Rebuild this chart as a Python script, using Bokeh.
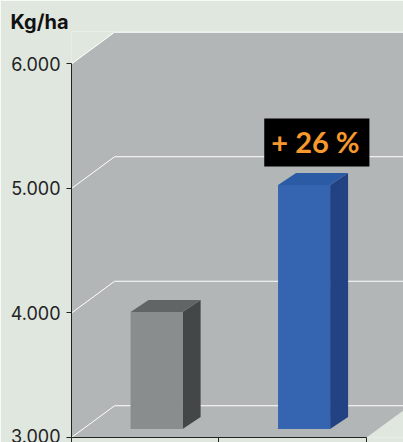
from bokeh.plotting import figure
from bokeh.embed import file_html
from bokeh.resources import INLINE
from bokeh.core.properties import value
from bokeh.models import FixedTicker, Range1d, Title

y_ticks = [3000, 4000, 5000, 6000]
y_labels = ["3.000", "4.000", "5.000", "6.000"]
x_ticks = [0, 1, 2]
bar_positions = [0.5, 1.5]
bar_values = [3940, 4960]
bar_front = ["#898d8d", "#3565b0"]
bar_side = ["#434748", "#224283"]
bar_top = ["#616566", "#2c5ba5"]
annotation = "+ 26 %"
unit_label = "Kg/ha"

BG = "#dfe7df"
WALL = "#b3b6b6"
XMAX = 2.2512
YTOP = 6261
WALL_DX, WALL_DY = 0.292, 255     # depth of the chart box
BAR_W, BAR_DX, BAR_DY = 0.353, 0.122, 96
BAR_SHIFT = 0.077                 # columns stand inside the box
FLOOR = 68                        # baseline of the bars above the front edge

p = figure(width=403, height=442, output_backend="svg", toolbar_location=None,
           x_range=Range1d(0, XMAX), y_range=Range1d(3000, YTOP),
           min_border_left=71, min_border_right=0, min_border_top=31, min_border_bottom=0,
           background_fill_color=BG, border_fill_color=BG, outline_line_color=None)
p.grid.visible = False

p.add_layout(Title(text=unit_label, align="left", offset=-61, standoff=-4, text_font="Inter",
                   text_font_size="20px", text_font_style="bold", text_color="#111111"), "above")

# wall + floor
p.patch([0, 0, WALL_DX, XMAX, XMAX, 2],
        [3000, 6000, 6000 + WALL_DY, 6000 + WALL_DY, 3000 + 217, 3000],
        fill_color=WALL, line_color=None)

# grid lines that fold round the box
p.multi_line([[0, WALL_DX, XMAX] for _ in y_ticks],
             [[t, t + WALL_DY, t + WALL_DY] for t in y_ticks],
             line_color="#ffffff", line_width=1)

# 3D columns
for x, v, cf, cs, ct in zip(bar_positions, bar_values, bar_front, bar_side, bar_top):
    l, r = x + BAR_SHIFT - BAR_W / 2, x + BAR_SHIFT + BAR_W / 2
    b, t = 3000 + FLOOR, v + FLOOR
    p.patch([r, r + BAR_DX, r + BAR_DX, r], [b, b + BAR_DY, t + BAR_DY, t], fill_color=cs, line_color=None)
    p.patch([l, l + BAR_DX, r + BAR_DX, r], [t, t + BAR_DY, t + BAR_DY, t], fill_color=ct, line_color=None)
    p.quad(left=l, right=r, bottom=b, top=t, fill_color=cf, line_color=None)

# annotation
p.quad(left=1.307, right=2.02, bottom=5177, top=5562, fill_color="#000000", line_color=None)
p.text(x=[1.654], y=[5378], text=[annotation], text_color="#f6982c",
       text_font=value("Lato"), text_font_size="29px", text_font_style="bold",
       text_align="center", text_baseline="middle")

ya = p.yaxis[0]
ya.ticker = FixedTicker(ticks=y_ticks)
ya.major_label_overrides = {t: s for t, s in zip(y_ticks, y_labels)}
ya.bounds = (3000, 6000)
ya.major_tick_in = 0
ya.major_tick_out = 5
ya.minor_tick_line_color = None
ya.major_label_standoff = 6
ya.major_label_text_font = "Inter"
ya.major_label_text_font_size = "18px"
ya.major_label_text_color = "#222222"
ya.axis_line_color = "#222222"
ya.major_tick_line_color = "#222222"

xa = p.xaxis[0]
xa.ticker = FixedTicker(ticks=x_ticks)
xa.major_label_overrides = {t: "" for t in x_ticks}
xa.bounds = (0, 2)
xa.major_tick_in = 0
xa.major_tick_out = 5
xa.minor_tick_line_color = None
xa.major_label_standoff = 0
xa.axis_line_color = "#222222"
xa.major_tick_line_color = "#222222"

open("out.html", "w").write(file_html(p, INLINE))
